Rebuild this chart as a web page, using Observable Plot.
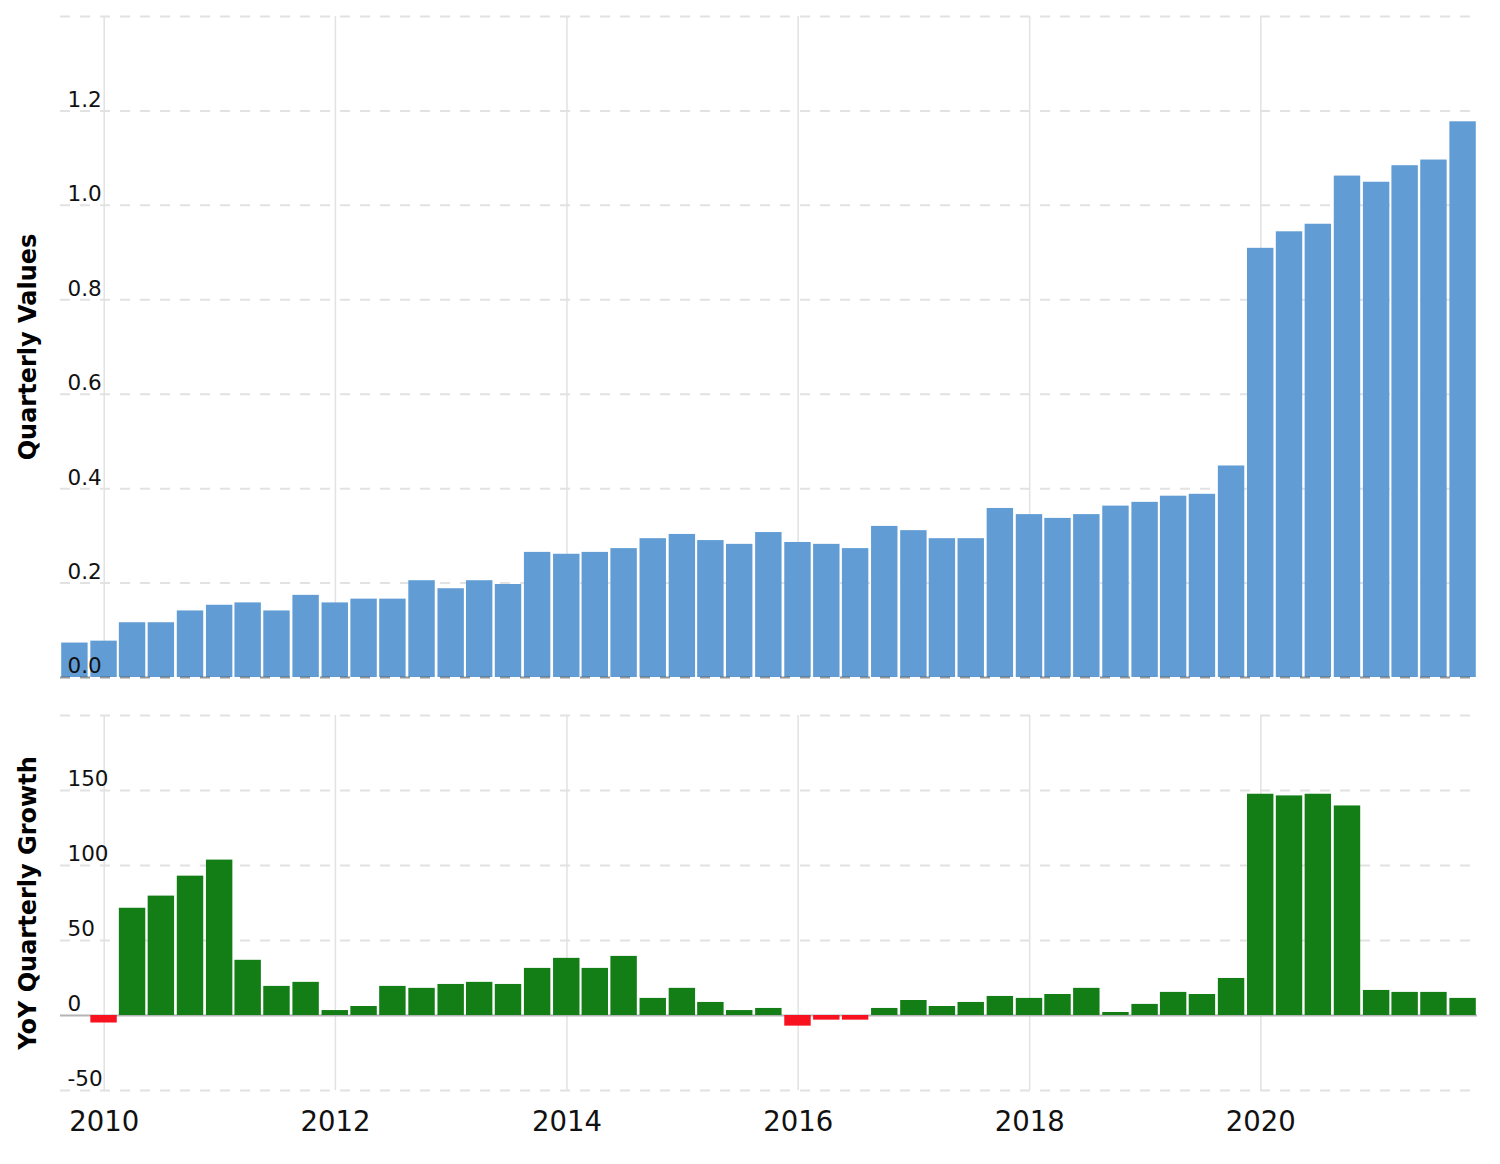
<!DOCTYPE html>
<html>
<head>
<meta charset="utf-8">
<script src="https://cdn.jsdelivr.net/npm/d3@7"></script>
<script src="https://cdn.jsdelivr.net/npm/@observablehq/plot@0.6"></script>
<style>
  html, body { margin: 0; padding: 0; background: #fff; }
  #chart svg { display: block; }
</style>
</head>
<body>
<div id="chart"></div>
<script>
// ---- Data ----
const quarterEnds = [
  "2009-09-30", "2009-12-31",
  "2010-03-31", "2010-06-30", "2010-09-30", "2010-12-31",
  "2011-03-31", "2011-06-30", "2011-09-30", "2011-12-31",
  "2012-03-31", "2012-06-30", "2012-09-30", "2012-12-31",
  "2013-03-31", "2013-06-30", "2013-09-30", "2013-12-31",
  "2014-03-31", "2014-06-30", "2014-09-30", "2014-12-31",
  "2015-03-31", "2015-06-30", "2015-09-30", "2015-12-31",
  "2016-03-31", "2016-06-30", "2016-09-30", "2016-12-31",
  "2017-03-31", "2017-06-30", "2017-09-30", "2017-12-31",
  "2018-03-31", "2018-06-30", "2018-09-30", "2018-12-31",
  "2019-03-31", "2019-06-30", "2019-09-30", "2019-12-31",
  "2020-03-31", "2020-06-30", "2020-09-30", "2020-12-31",
  "2021-03-31", "2021-06-30", "2021-09-30"
];

const quarterlyValues = [
  0.073, 0.077, 0.116, 0.116, 0.141, 0.153, 0.158, 0.141, 0.174, 0.158,
  0.166, 0.166, 0.205, 0.188, 0.205, 0.197, 0.265, 0.261, 0.265, 0.273,
  0.294, 0.303, 0.290, 0.282, 0.307, 0.286, 0.282, 0.273, 0.320, 0.311,
  0.294, 0.294, 0.358, 0.345, 0.337, 0.345, 0.363, 0.371, 0.384, 0.388,
  0.448, 0.909, 0.944, 0.960, 1.062, 1.049, 1.084, 1.096, 1.177
];

const yoyGrowth = [
  null, -5.0, 71.5, 79.6, 92.9, 103.6, 36.8, 19.4, 22.1, 3.3,
  6.0, 19.4, 18.1, 20.7, 22.1, 20.7, 31.4, 38.1, 31.4, 39.4,
  11.4, 18.1, 8.7, 3.3, 4.7, -7.1, -3.1, -3.1, 4.7, 10.0,
  6.0, 8.7, 12.7, 11.4, 14.0, 18.1, 2.0, 7.4, 15.4, 14.0,
  24.7, 147.5, 146.4, 147.5, 139.7, 16.7, 15.4, 15.4, 11.4
];

const valueTicks = [0, 0.2, 0.4, 0.6, 0.8, 1.0, 1.2];
const valueGrid = [0.2, 0.4, 0.6, 0.8, 1.0, 1.2, 1.4];
const growthTicks = [-50, 0, 50, 100, 150];
const growthGrid = [-50, 50, 100, 150, 200];
const yearTicks = [2010, 2012, 2014, 2016, 2018, 2020];

const topTitle = "Quarterly Values";
const bottomTitle = "YoY Quarterly Growth";

// ---- Build tables ----
const parseDate = d3.utcParse("%Y-%m-%d");
const rows = quarterEnds.map((s, i) => {
  const date = parseDate(s);
  return {
    date,
    x1: d3.utcDay.offset(date, -45),
    x2: d3.utcDay.offset(date, 46),
    value: quarterlyValues[i],
    growth: yoyGrowth[i]
  };
});
const growthRows = rows.filter(d => d.growth != null);
const yearDates = yearTicks.map(y => new Date(Date.UTC(y, 0, 1)));
const xDomain = [rows[0].x1, rows[rows.length - 1].x2];

const BLUE = "#619dd4";
const GREEN = "#127e15";
const RED = "#f8111f";
const GRID = "#e2e2e2";
const FONT = "DejaVu Sans, Verdana, sans-serif";

const common = {
  width: 1500,
  marginLeft: 60,
  marginRight: 23,
  style: { fontFamily: FONT, background: "#fff", overflow: "visible" }
};

const topChart = Plot.plot({
  ...common,
  height: 695,
  marginTop: 16,
  marginBottom: 18,
  x: { type: "utc", domain: xDomain, axis: null },
  y: { domain: [0, 1.4], axis: null },
  marks: [
    Plot.ruleX(yearDates, { stroke: GRID, strokeWidth: 1.5 }),
    Plot.ruleY(valueGrid, { stroke: GRID, strokeWidth: 2, strokeDasharray: "10,10" }),
    Plot.rectY(rows, { x1: "x1", x2: "x2", y: "value", fill: BLUE, insetLeft: 1.2, insetRight: 1.2 }),
    Plot.ruleY([0], { stroke: "#444", strokeOpacity: 0.55, strokeWidth: 2, strokeDasharray: "10,10" }),
    Plot.text(valueTicks, {
      y: d => d, text: d => d.toFixed(1), frameAnchor: "left", textAnchor: "start",
      dx: 7, dy: -11, fontSize: 21.5, fill: "#111"
    }),
    Plot.text([topTitle], {
      text: d => d, frameAnchor: "left", textAnchor: "middle", rotate: -90, dx: -32,
      fontSize: 24, fontWeight: "bold", fill: "#000"
    })
  ]
});

const bottomChart = Plot.plot({
  ...common,
  height: 469,
  marginTop: 20,
  marginBottom: 74,
  x: { type: "utc", domain: xDomain },
  y: { domain: [-50, 200], axis: null },
  marks: [
    Plot.ruleX(yearDates, { stroke: GRID, strokeWidth: 1.5 }),
    Plot.ruleY(growthGrid, { stroke: GRID, strokeWidth: 2, strokeDasharray: "10,10" }),
    Plot.ruleY([0], { stroke: "#b4b4b4", strokeWidth: 2 }),
    Plot.rectY(growthRows, {
      filter: d => d.growth >= 0, x1: "x1", x2: "x2", y: "growth",
      fill: GREEN, insetLeft: 1.2, insetRight: 1.2
    }),
    Plot.rectY(growthRows, {
      filter: d => d.growth < 0, x1: "x1", x2: "x2", y: "growth",
      fill: RED, insetLeft: 1.2, insetRight: 1.2
    }),
    Plot.axisX({
      ticks: yearDates, tickFormat: d3.utcFormat("%Y"), tickSize: 0, tickPadding: 21,
      fontSize: 27.5, label: null, fill: "#111"
    }),
    Plot.text(growthTicks, {
      y: d => d, text: d => String(d), frameAnchor: "left", textAnchor: "start",
      dx: 7, dy: -11, fontSize: 21.5, fill: "#111"
    }),
    Plot.text([bottomTitle], {
      text: d => d, frameAnchor: "left", textAnchor: "middle", rotate: -90, dx: -32,
      fontSize: 24, fontWeight: "bold", fill: "#000"
    })
  ]
});

document.getElementById("chart").append(topChart, bottomChart);
</script>
</body>
</html>
